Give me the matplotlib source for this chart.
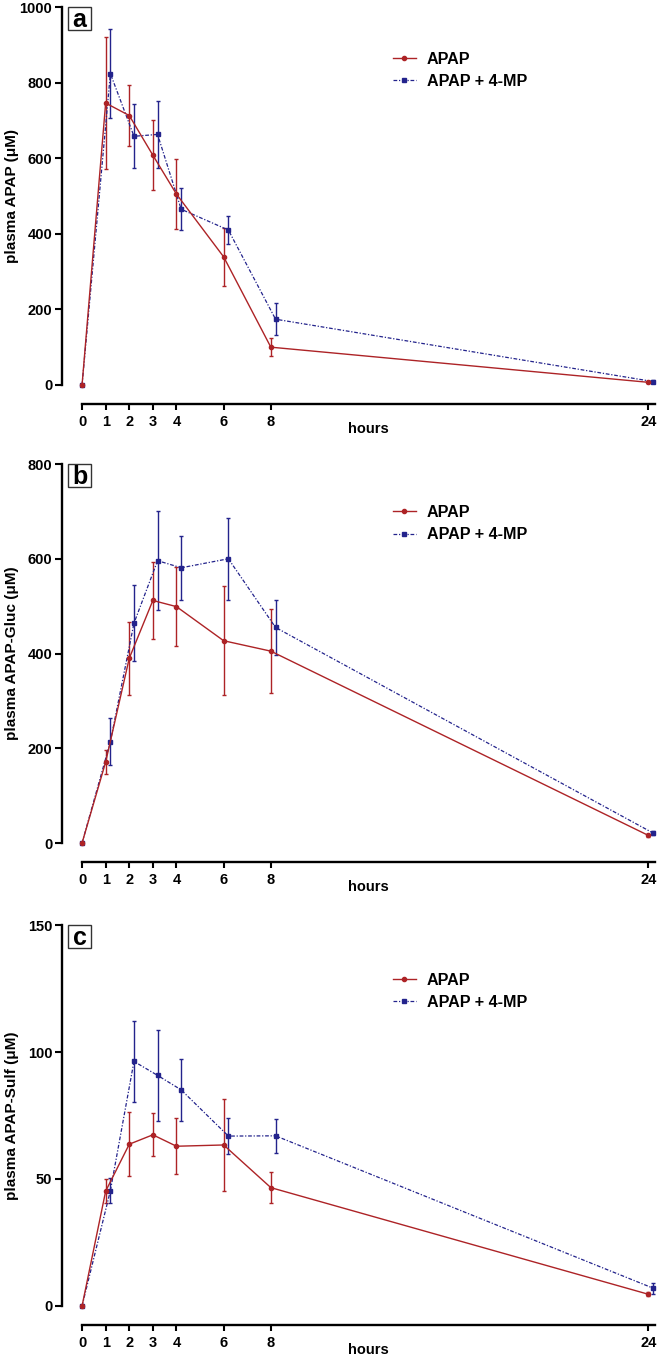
import matplotlib
matplotlib.use("Agg")
import matplotlib.pyplot as plt
from matplotlib.patches import Rectangle
from matplotlib.lines import Line2D

plt.rcParams['font.family'] = ['Liberation Sans', 'DejaVu Sans']
plt.rcParams['font.weight'] = 'bold'

# sampling times (h); the 4-MP series is drawn slightly right of the APAP one
hours = [0, 1, 2, 3, 4, 6, 8, 24]
shift = 0.2
xticks = [0, 1, 2, 3, 4, 6, 8, 24]

# panel a: plasma APAP
apap_a = [0, 746, 713, 608, 505, 339, 100, 7]
apap_a_err = [0, 174, 80, 93, 92, 77, 24, 3]
mp_a = [0, 824, 658, 663, 465, 410, 174, 9]
mp_a_err = [0, 117, 85, 89, 56, 37, 43, 3]

# panel b: plasma APAP-Gluc
apap_b = [0, 171, 390, 512, 499, 427, 405, 16]
apap_b_err = [0, 25, 77, 81, 84, 115, 88, 3]
mp_b = [0, 214, 464, 596, 581, 600, 455, 21]
mp_b_err = [0, 50, 80, 104, 67, 87, 58, 5]

# panel c: plasma APAP-Sulf
apap_c = [0, 45.2, 63.7, 67.4, 62.9, 63.4, 46.6, 4.6]
apap_c_err = [0, 4.7, 12.7, 8.5, 11, 18, 6, 0.8]
mp_c = [0, 45.4, 96.3, 90.8, 85.1, 66.9, 67.0, 7.0]
mp_c_err = [0, 5, 16, 18, 12.3, 7, 6.8, 2.2]

panels = [
    ('a', 'plasma APAP (μM)', [0, 200, 400, 600, 800, 1000], 1000,
     apap_a, apap_a_err, mp_a, mp_a_err, (0.7161, 0.9948), 0.882),
    ('b', 'plasma APAP-Gluc (μM)', [0, 200, 400, 600, 800], 800,
     apap_b, apap_b_err, mp_b, mp_b_err, (0.3783, 0.6578), 0.892),
    ('c', 'plasma APAP-Sulf (μM)', [0, 50, 100, 150], 150,
     apap_c, apap_c_err, mp_c, mp_c_err, (0.0369, 0.3178), 0.875),
]

red = '#ad2326'
blue = '#23238c'
blue_ls = (0, (3, 1.4, 1, 1.4))

fig = plt.figure(figsize=(6.57, 13.56), dpi=100)
W = 593.5  # axes width in px

for letter, ylab, yt, ymax, r, re, b, be, pos, legy in panels:
    H = (pos[1] - pos[0]) * 1356
    ax = fig.add_axes([62 / 657, pos[0], W / 657, pos[1] - pos[0]])
    xb = [h + shift if h > 0 else h for h in hours]
    ax.errorbar(xb, b, yerr=be, color=blue, lw=0.9, elinewidth=1.0,
                capsize=1.6, capthick=1.0, marker='s', ms=3.2,
                linestyle=blue_ls, clip_on=False, zorder=3)
    ax.errorbar(hours, r, yerr=re, color=red, lw=1.0, elinewidth=1.0,
                capsize=1.6, capthick=1.0, marker='o', ms=3,
                clip_on=False, zorder=3)
    ax.set_xlim(-0.85, 24.3)
    ax.set_ylim(0, ymax)
    ax.set_yticks(yt)
    ax.set_xticks(xticks)
    ax.tick_params(axis='y', labelsize=10.5, width=1.5, length=5, pad=2)
    ax.tick_params(axis='x', labelsize=10.5, width=1.5, length=4.5, pad=3.5)
    for lbl in ax.get_xticklabels() + ax.get_yticklabels():
        lbl.set_fontweight('bold')
    ax.spines['top'].set_visible(False)
    ax.spines['right'].set_visible(False)
    ax.spines['left'].set_linewidth(1.7)
    ax.spines['bottom'].set_linewidth(1.7)
    ax.spines['bottom'].set_position(('outward', 19 * 0.72))
    ax.spines['bottom'].set_bounds(0, 24.3)
    ax.text((12.5 - 62) / W, 0.5, ylab, transform=ax.transAxes, rotation=90,
            ha='center', va='center', fontsize=11, fontweight='bold')
    ax.text((368 - 62) / W, -44 / H, 'hours', transform=ax.transAxes,
            ha='center', va='center', fontsize=10.5, fontweight='bold')
    # panel letter in a small square box
    ax.add_patch(Rectangle((6 / W, 1 - 23 / H), 23 / W, 23 / H,
                           transform=ax.transAxes, fc='white', ec='#333333',
                           lw=1.0, clip_on=False, zorder=5))
    ax.text(17.5 / W, 1 - 20 / H, letter, transform=ax.transAxes,
            ha='center', va='baseline', fontsize=18, fontweight='bold', zorder=6)
    handles = [Line2D([], [], color=red, lw=1.0, marker='o', ms=3),
               Line2D([], [], color=blue, lw=0.9, marker='s', ms=3.2,
                      linestyle=blue_ls)]
    leg = ax.legend(handles, ['APAP', 'APAP + 4-MP'], loc='upper left',
                    bbox_to_anchor=(0.558, legy), frameon=False,
                    fontsize=11.6, handlelength=1.4, handletextpad=0.7,
                    labelspacing=0.45, borderpad=0, borderaxespad=0)
    for t in leg.get_texts():
        t.set_fontweight('bold')

fig.savefig('out.png', dpi=100)
